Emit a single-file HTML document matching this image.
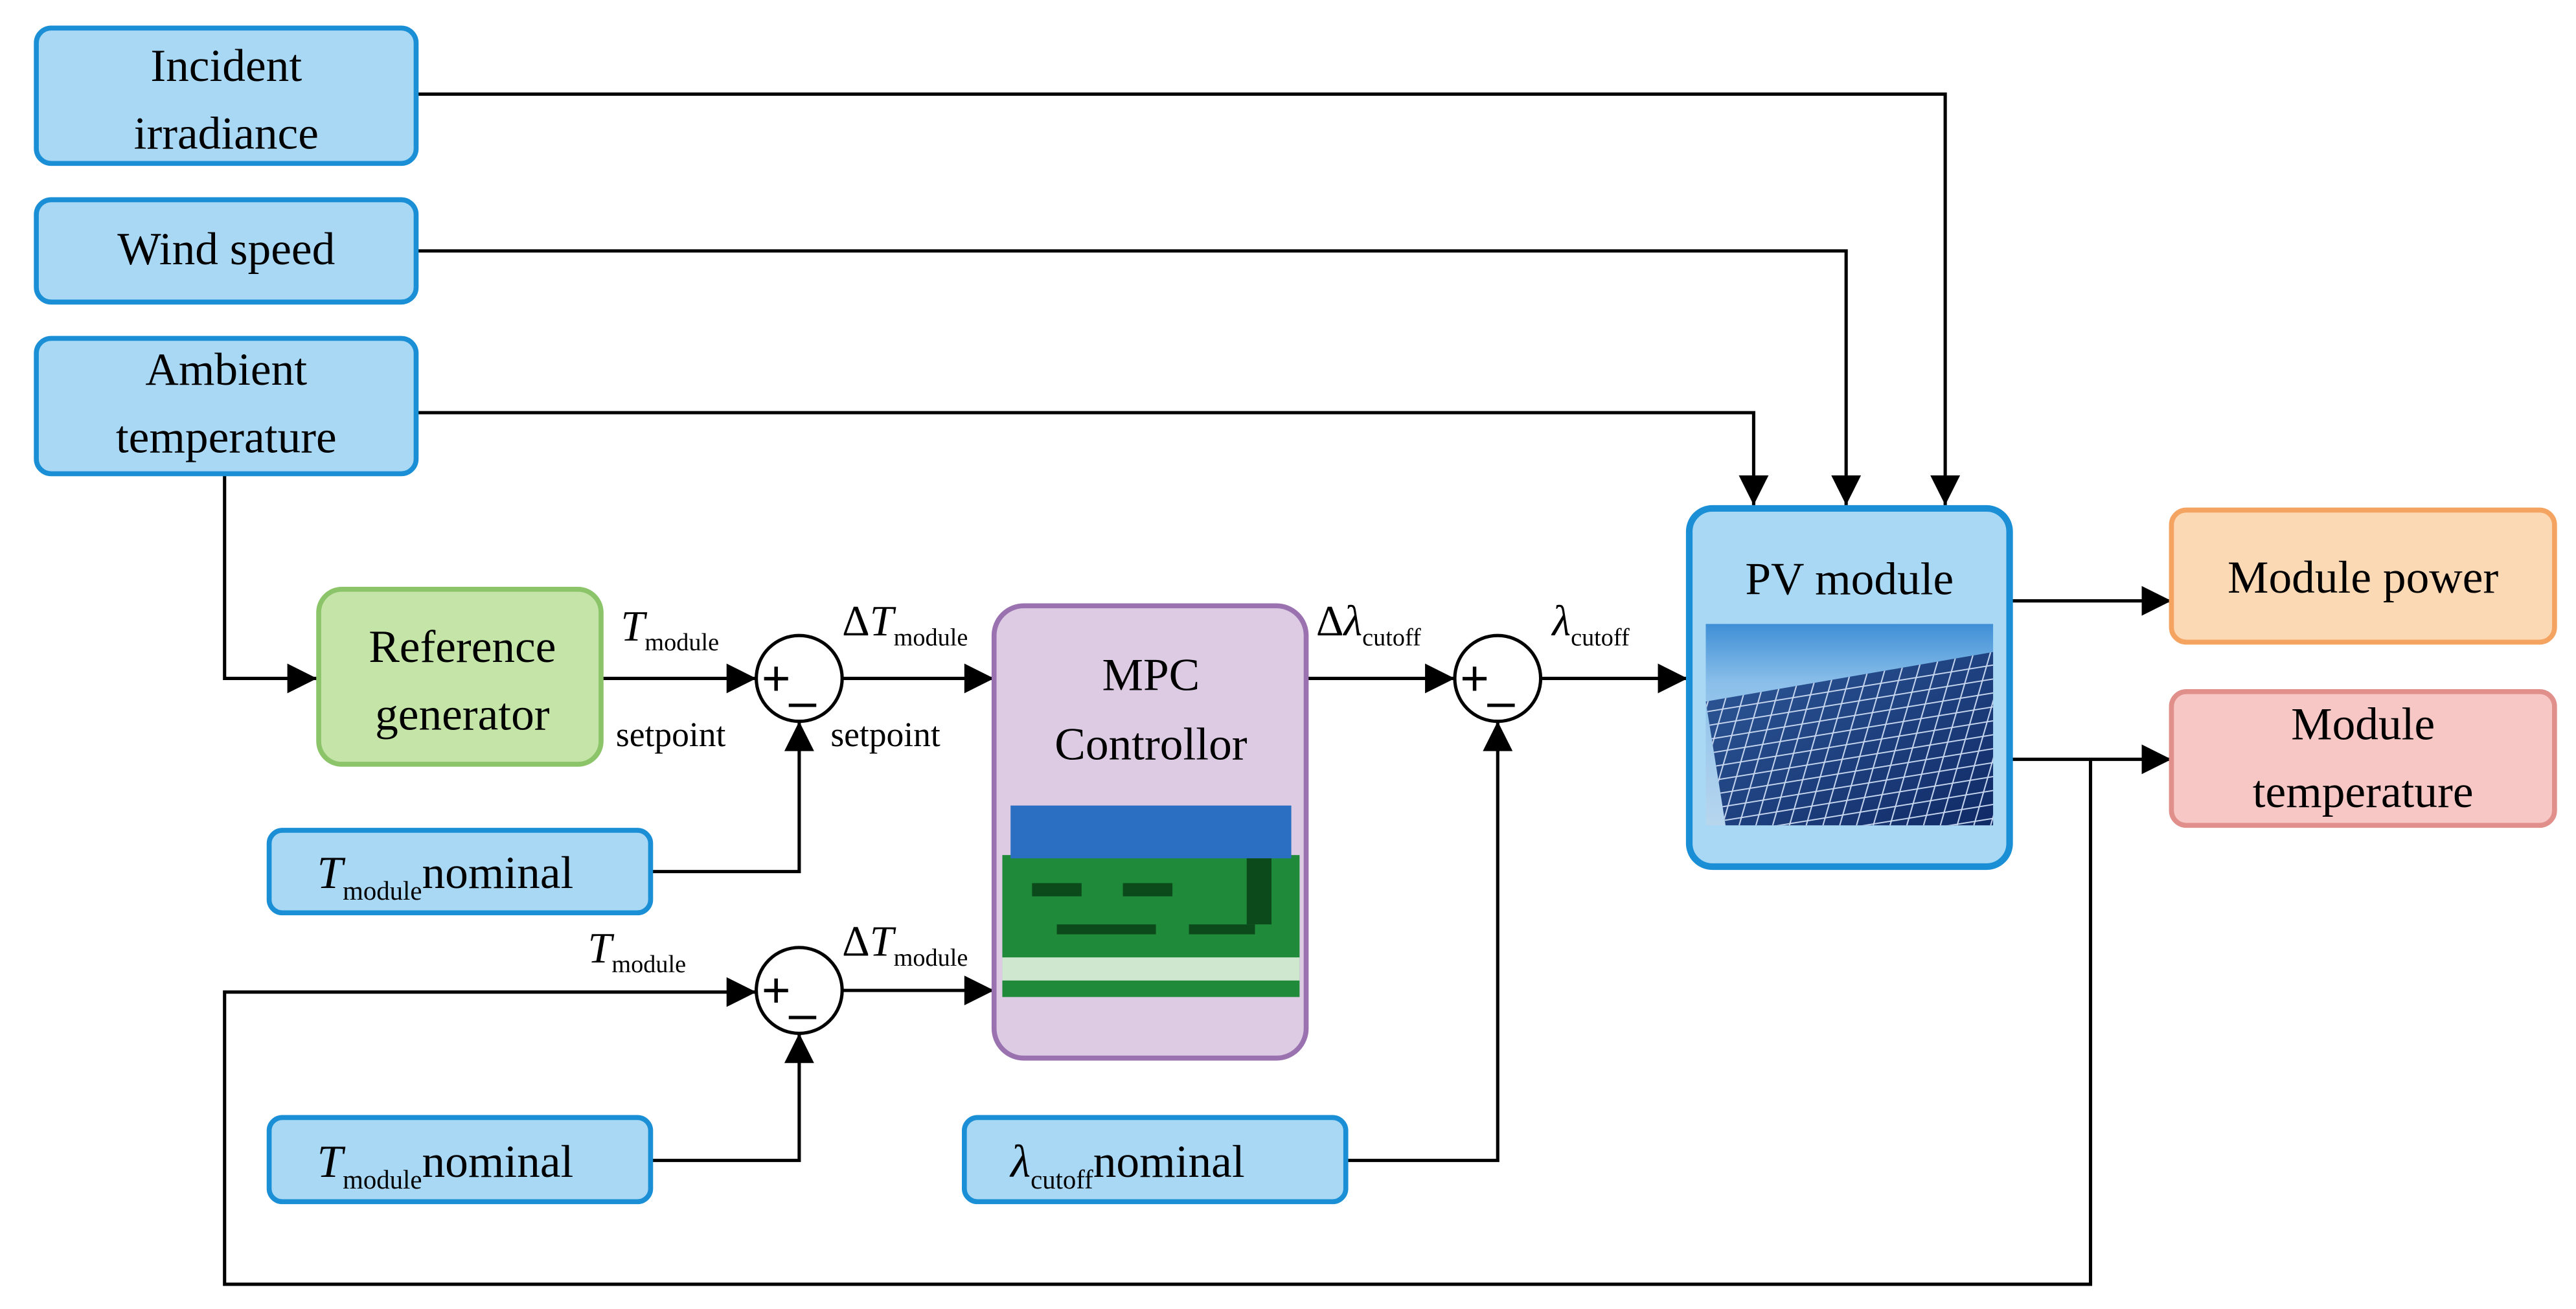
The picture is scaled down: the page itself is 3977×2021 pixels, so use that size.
<!DOCTYPE html>
<html><head><meta charset="utf-8"><style>html,body{margin:0;padding:0;background:#fff}svg{display:block}</style></head>
<body>
<svg width="3977" height="2021" viewBox="0 0 1560 793" preserveAspectRatio="none" xmlns="http://www.w3.org/2000/svg" font-family="Liberation Serif, serif">
<defs>
<marker id="b" viewBox="0 0 10 10" refX="10" refY="5" markerWidth="22" markerHeight="18" markerUnits="userSpaceOnUse" orient="auto"><path d="M0,0 L10,5 L0,10Z" fill="#000"/></marker>
<linearGradient id="sky" x1="0" y1="0" x2="0" y2="1"><stop offset="0" stop-color="#3f8fd6"/><stop offset="0.3" stop-color="#8cc0ea"/><stop offset="1" stop-color="#b7d6ee"/></linearGradient>
<linearGradient id="pan" x1="0" y1="0" x2="1" y2="1"><stop offset="0" stop-color="#2f5a9a"/><stop offset="1" stop-color="#102a66"/></linearGradient>
<pattern id="grid" width="10" height="9" patternUnits="userSpaceOnUse" patternTransform="skewX(-25) rotate(-10)"><rect width="10" height="9" fill="none" stroke="#c8d8f0" stroke-width="0.8"/></pattern>
</defs>
<g stroke="#000" stroke-width="2" fill="none">
<path d="M252,57 H1178 V306" marker-end="url(#b)"/>
<path d="M252,152 H1118 V306" marker-end="url(#b)"/>
<path d="M252,250 H1062 V306" marker-end="url(#b)"/>
<path d="M136,287 V411 H192" marker-end="url(#b)"/>
<path d="M364,411 H458" marker-end="url(#b)"/>
<path d="M510,411 H602" marker-end="url(#b)"/>
<path d="M394,528 H484 V437" marker-end="url(#b)"/>
<path d="M1266,460 V778 H136 V601 H458" marker-end="url(#b)"/>
<path d="M1217,460 H1315" marker-end="url(#b)"/>
<path d="M1217,364 H1315" marker-end="url(#b)"/>
<path d="M510,600 H602" marker-end="url(#b)"/>
<path d="M394,703 H484 V626" marker-end="url(#b)"/>
<path d="M791,411 H881" marker-end="url(#b)"/>
<path d="M933,411 H1022" marker-end="url(#b)"/>
<path d="M815,703 H907 V437" marker-end="url(#b)"/>
<circle cx="484" cy="411" r="26" fill="#fff"/>
<circle cx="484" cy="600" r="26" fill="#fff"/>
<circle cx="907" cy="411" r="26" fill="#fff"/>
</g>
<g font-size="30" text-anchor="middle" font-family="Liberation Sans, sans-serif">
<text x="470" y="421">+</text><text x="486" y="435">–</text>
<text x="470" y="610">+</text><text x="486" y="624">–</text>
<text x="893" y="421">+</text><text x="909" y="435">–</text>
</g>
<g stroke="#1a8fd6" stroke-width="3" fill="#a9d8f5">
<rect x="22" y="17" width="230" height="82" rx="9"/>
<rect x="22" y="121" width="230" height="62" rx="9"/>
<rect x="22" y="205" width="230" height="82" rx="9"/>
<rect x="163" y="503" width="231" height="50" rx="8"/>
<rect x="163" y="677" width="231" height="51" rx="8"/>
<rect x="584" y="677" width="231" height="51" rx="8"/>
<rect x="1023" y="308" width="194" height="217" rx="14" stroke-width="4"/>
</g>
<rect x="193" y="357" width="171" height="106" rx="14" fill="#c5e4a8" stroke="#8cc46a" stroke-width="3"/>
<rect x="602" y="367" width="189" height="274" rx="18" fill="#dccbe3" stroke="#9a72b0" stroke-width="3"/>
<rect x="1315" y="309" width="232" height="80" rx="9" fill="#fcd9b5" stroke="#f4a460" stroke-width="3"/>
<rect x="1315" y="419" width="232" height="81" rx="9" fill="#f6c7c4" stroke="#e08f8a" stroke-width="3"/>
<rect x="607" y="518" width="180" height="86" fill="#1f8a3a"/>
<rect x="612" y="488" width="170" height="32" fill="#2a6fc2"/>
<rect x="607" y="580" width="180" height="14" fill="#cfe6cf"/>
<g fill="#0c4a1c"><rect x="625" y="535" width="30" height="8"/><rect x="680" y="535" width="30" height="8"/><rect x="640" y="560" width="60" height="6"/><rect x="720" y="560" width="40" height="6"/><rect x="755" y="520" width="15" height="40"/></g>
<rect x="1033" y="378" width="174" height="122" fill="url(#sky)"/>
<path d="M1033,425 L1207,395 L1207,500 L1045,500 Z" fill="url(#pan)"/>
<path d="M1033,425 L1207,395 L1207,500 L1045,500 Z" fill="url(#grid)"/>
<g font-size="28" text-anchor="middle" fill="#000">
<text x="137" y="49">Incident</text><text x="137" y="90">irradiance</text>
<text x="137" y="160">Wind speed</text>
<text x="137" y="233">Ambient</text><text x="137" y="274">temperature</text>
<text x="280" y="401">Reference</text><text x="280" y="442">generator</text>
<text x="697" y="418">MPC</text><text x="697" y="460">Controllor</text>
<text x="1120" y="360">PV module</text>
<text x="1431" y="359">Module power</text>
<text x="1431" y="448">Module</text><text x="1431" y="489">temperature</text>
</g>
<g font-size="28" fill="#000">
<text x="192" y="538"><tspan font-style="italic">T</tspan><tspan font-size="16" dy="7">module</tspan><tspan dy="-7">nominal</tspan></text>
<text x="192" y="713"><tspan font-style="italic">T</tspan><tspan font-size="16" dy="7">module</tspan><tspan dy="-7">nominal</tspan></text>
<text x="612" y="713"><tspan font-style="italic">λ</tspan><tspan font-size="16" dy="7">cutoff</tspan><tspan dy="-7">nominal</tspan></text>
</g>
<g font-size="26" fill="#000">
<text x="376" y="388"><tspan font-style="italic">T</tspan><tspan font-size="15" dy="6">module</tspan></text>
<text x="373" y="452" font-size="21">setpoint</text>
<text x="510" y="385">Δ<tspan font-style="italic">T</tspan><tspan font-size="15" dy="6">module</tspan></text>
<text x="503" y="452" font-size="21">setpoint</text>
<text x="356" y="583"><tspan font-style="italic">T</tspan><tspan font-size="15" dy="6">module</tspan></text>
<text x="510" y="579">Δ<tspan font-style="italic">T</tspan><tspan font-size="15" dy="6">module</tspan></text>
<text x="797" y="385">Δ<tspan font-style="italic">λ</tspan><tspan font-size="15" dy="6">cutoff</tspan></text>
<text x="940" y="385"><tspan font-style="italic">λ</tspan><tspan font-size="15" dy="6">cutoff</tspan></text>
</g>
</svg>
</body></html>
